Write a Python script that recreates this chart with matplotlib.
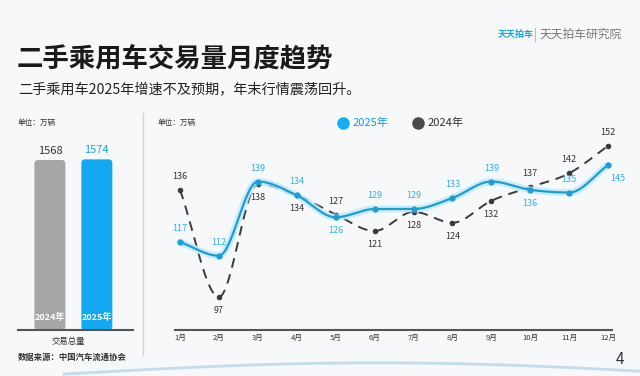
import numpy as np
import matplotlib
matplotlib.use("Agg")
import matplotlib.pyplot as plt
from matplotlib.patches import FancyBboxPatch

plt.rcParams['font.family'] = ['Noto Sans CJK SC', 'DejaVu Sans']

months = ["1月", "2月", "3月", "4月", "5月", "6月", "7月", "8月", "9月", "10月", "11月", "12月"]
v2025 = [117, 112, 139, 134, 126, 129, 129, 133, 139, 136, 135, 145]
v2024 = [136, 97, 138, 134, 127, 121, 128, 124, 132, 137, 142, 152]
total_years = ["2024年", "2025年"]
total_vals = [1568, 1574]

# label placement: +1 above, -1 below
pos2025 = [1, 1, 1, 1, -1, 1, 1, 1, 1, -1, 1, -1]
pos2024 = [1, -1, -1, -1, 1, -1, -1, -1, -1, 1, 1, 1]

BLUE = "#1a9fd4"
LBLUE = "#2fb0e8"
GRAY = "#a7a7a9"
DARK = "#3b3b3b"

W, H = 640, 376
fig = plt.figure(figsize=(6.4, 3.76), dpi=100)
fig.patch.set_facecolor("#f7f8fa")

def fx(px): return px / W
def fy(py): return 1 - py / H

# titles
fig.text(fx(17), fy(60), "二手乘用车交易量月度趋势", fontsize=19, fontweight="bold",
         color="#1a1a1a", va="center", ha="left")
fig.text(fx(18), fy(90), "二手乘用车2025年增速不及预期，年末行情震荡回升。", fontsize=10.2,
         color="#222222", va="center", ha="left")
# logo
fig.text(fx(498), fy(34), "天天拍车", fontsize=6.5, fontweight="bold", color="#1aa6d8", va="center", ha="left")
fig.add_artist(plt.Line2D([fx(535), fx(535)], [fy(28), fy(41)], color="#bbbbbb", lw=0.8))
fig.text(fx(540), fy(34), "天天拍车研究院", fontsize=8.5, color="#777777", va="center", ha="left")

# ---- left bar panel ----
axb = fig.add_axes([fx(18), fy(330), fx(133) - fx(18), fy(115) - fy(330)])
axb.set_facecolor("none")
xb = np.arange(len(total_vals))
bar_colors = [GRAY, "#13a9f2"]
bw = 0.66
for i, v in enumerate(total_vals):
    p = FancyBboxPatch((xb[i] - bw / 2, 0), bw, v,
                       boxstyle="round,pad=0,rounding_size=0.08",
                       mutation_aspect=(1983 / 2.45) * (115 / 215),
                       fc=bar_colors[i], ec="none", zorder=2)
    axb.add_patch(p)
axb.set_xlim(-0.68, 1.77)
axb.set_ylim(0, 1983)
for s in ["top", "right", "left"]:
    axb.spines[s].set_visible(False)
axb.spines["bottom"].set_color("#555555")
axb.spines["bottom"].set_linewidth(1.5)
axb.spines["bottom"].set_zorder(3)
axb.set_yticks([])
axb.set_xticks([])
for i, (v, yr) in enumerate(zip(total_vals, total_years)):
    axb.text(i, v + 40, f"{v}", ha="center", va="bottom", fontsize=8,
             color=["#333333", "#1aa6e8"][i])
    axb.text(i, 70, yr, ha="center", va="bottom", fontsize=6.5, color="white", fontweight="bold")
fig.text(fx(68), fy(341), "交易总量", fontsize=6, ha="center", va="center", color="#333333")
fig.text(fx(18), fy(123), "单位：万辆", fontsize=5.5, ha="left", va="center", color="#333333")

# divider
fig.add_artist(plt.Line2D([fx(143), fx(143)], [fy(113), fy(355)], color="#cfd3d8", lw=1))

# ---- line panel ----
ax = fig.add_axes([fx(175), fy(330), fx(612) - fx(175), fy(115) - fy(330)])
ax.set_facecolor("none")
x = np.arange(len(months))

def smooth(xs, ys, n=30):
    xs = np.asarray(xs, float); ys = np.asarray(ys, float)
    m = np.zeros_like(ys)
    d = np.diff(ys)
    m[1:-1] = (d[:-1] + d[1:]) / 2
    m[0] = d[0]; m[-1] = d[-1]
    for i in range(1, len(ys) - 1):
        if d[i - 1] * d[i] <= 0:
            m[i] = 0
    X, Y = [], []
    for i in range(len(xs) - 1):
        t = np.linspace(0, 1, n, endpoint=False)
        h00 = 2*t**3 - 3*t**2 + 1; h10 = t**3 - 2*t**2 + t
        h01 = -2*t**3 + 3*t**2; h11 = t**3 - t**2
        X.append(xs[i] + t)
        Y.append(h00*ys[i] + h10*m[i] + h01*ys[i+1] + h11*m[i+1])
    X.append([xs[-1]]); Y.append([ys[-1]])
    return np.concatenate(X), np.concatenate(Y)

sx, sy = smooth(x, v2024)
ax.plot(sx, sy, color=DARK, lw=1.4, ls=(0, (5, 3.5)), zorder=3)
ax.scatter(x, v2024, s=9, color=DARK, zorder=4)
bx, by = smooth(x, v2025)
ax.plot(bx, by, color="#bfe9fb", lw=5, alpha=0.8, zorder=4, solid_capstyle="round")
ax.plot(bx, by, color=BLUE, lw=1.6, zorder=5)
ax.scatter(x, v2025, s=12, color=BLUE, zorder=6)

for i in x:
    dx = 0.25 if i == len(x) - 1 else 0
    ax.text(i + dx, v2025[i] + (3.2 if pos2025[i] > 0 else -3.2), str(v2025[i]),
            ha="center", va="bottom" if pos2025[i] > 0 else "top", fontsize=6.5, color=LBLUE, zorder=7)
    ax.text(i, v2024[i] + (3.2 if pos2024[i] > 0 else -3.2), str(v2024[i]),
            ha="center", va="bottom" if pos2024[i] > 0 else "top", fontsize=6.5, color="#333333", zorder=7)

ax.set_xlim(-0.128, 11.10)
ax.set_ylim(85, 163.2)
for s in ["top", "right", "left"]:
    ax.spines[s].set_visible(False)
ax.spines["bottom"].set_color("#555555")
ax.spines["bottom"].set_linewidth(1.5)
ax.set_yticks([])
ax.set_xticks(x)
ax.set_xticklabels(months, fontsize=5.5, color="#333333")
ax.tick_params(axis="x", length=0, pad=3)

fig.text(fx(158), fy(123), "单位：万辆", fontsize=5.5, ha="left", va="center", color="#333333")
# legend
fig.add_artist(plt.Line2D([fx(343)], [fy(123)], marker="o", ms=8, color="#19aef0", lw=0))
fig.text(fx(353), fy(123), "2025年", fontsize=8, color="#1a9fd4", va="center", ha="left")
fig.add_artist(plt.Line2D([fx(418)], [fy(123)], marker="o", ms=8, color="#4a4a4a", lw=0))
fig.text(fx(428), fy(123), "2024年", fontsize=8, color="#333333", va="center", ha="left")

# footer
fig.text(fx(18), fy(357), "数据来源：中国汽车流通协会", fontsize=6, fontweight="bold",
         color="#333333", va="center", ha="left")
fig.text(fx(620), fy(360), "4", fontsize=11, color="#333333", va="center", ha="center")
# decorative wave
wx = np.linspace(0.1, 1.0, 100)
fig.add_artist(plt.Line2D(wx, 0.005 + 0.03 * np.sin((wx - 0.1) * 3.2), color="#9ccbe6", lw=2, alpha=0.6))

fig.savefig("out.png", dpi=100, facecolor=fig.get_facecolor())
